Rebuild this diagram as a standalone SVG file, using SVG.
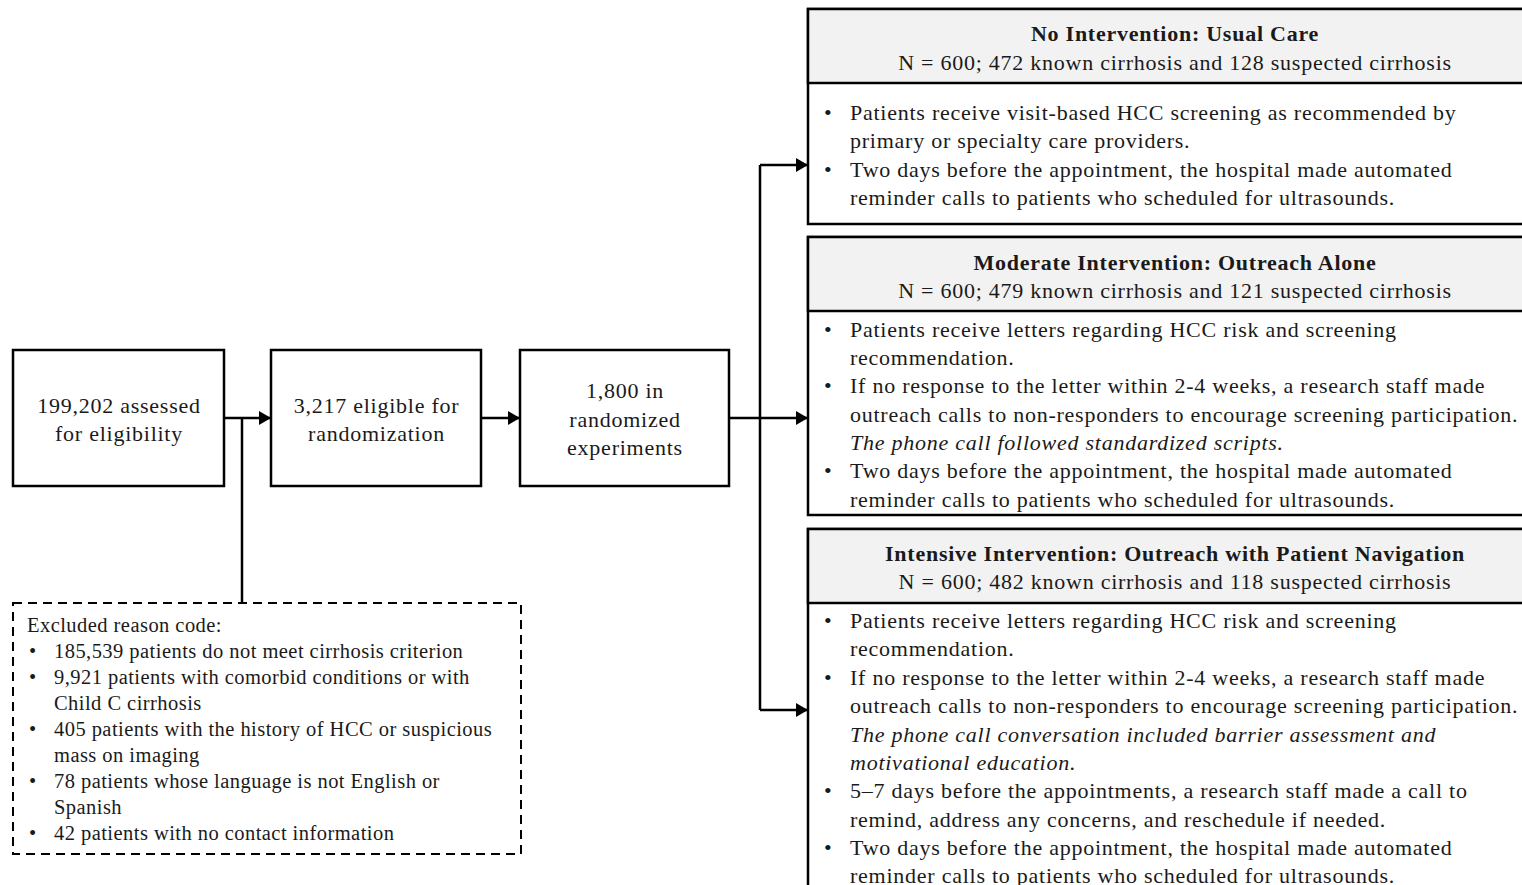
<svg xmlns="http://www.w3.org/2000/svg" width="1522" height="885" viewBox="0 0 1522 885">
<defs>
<marker id="ah" markerWidth="12" markerHeight="14" refX="12" refY="7" orient="auto" markerUnits="userSpaceOnUse"><path d="M0,0 L12,7 L0,14 Z" fill="#000"/></marker>
<style>
.box{fill:#fff;stroke:#000;stroke-width:2.5}
.hdr{fill:#f2f2f2;stroke:#000;stroke-width:2.5}
.dash{fill:#fff;stroke:#000;stroke-width:2;stroke-dasharray:9,6}
.ln{fill:none;stroke:#000;stroke-width:2.5}
text{font-family:"Liberation Serif","Times New Roman",serif;fill:#1a1a1a}
.t{font-size:22px;letter-spacing:0.75px}
.c{font-size:22px;letter-spacing:0.75px;text-anchor:middle}
.b{font-weight:bold}
.s{font-size:20.5px;letter-spacing:0.45px}
.i{font-style:italic}
</style>
</defs>
<rect width="1522" height="885" fill="#fff"/>
<g id="connectors">
<path class="ln" d="M224,418 H271" marker-end="url(#ah)"/>
<path class="ln" d="M242,418 V603"/>
<path class="ln" d="M481,418 H520" marker-end="url(#ah)"/>
<path class="ln" d="M729,418 H808" marker-end="url(#ah)"/>
<path class="ln" d="M760,165 V710"/>
<path class="ln" d="M760,165 H808" marker-end="url(#ah)"/>
<path class="ln" d="M760,710 H808" marker-end="url(#ah)"/>
</g>
<g id="assessed">
<rect class="box" x="13" y="350" width="211" height="136"/>
<text class="c" x="119" y="413">199,202 assessed</text>
<text class="c" x="119" y="441">for eligibility</text>
</g>
<g id="eligible">
<rect class="box" x="271" y="350" width="210" height="136"/>
<text class="c" x="376.5" y="413">3,217 eligible for</text>
<text class="c" x="376.5" y="441">randomization</text>
</g>
<g id="randomized">
<rect class="box" x="520" y="350" width="209" height="136"/>
<text class="c" x="625" y="398">1,800 in</text>
<text class="c" x="625" y="427">randomized</text>
<text class="c" x="625" y="455">experiments</text>
</g>
<g id="excluded">
<rect class="dash" x="13" y="603" width="508" height="251"/>
<text class="s" x="27" y="632">Excluded reason code:</text>
<g class="s">
<text x="29" y="658">•</text><text x="54" y="658">185,539 patients do not meet cirrhosis criterion</text>
<text x="29" y="684">•</text><text x="54" y="684">9,921 patients with comorbid conditions or with</text>
<text x="54" y="710">Child C cirrhosis</text>
<text x="29" y="736">•</text><text x="54" y="736">405 patients with the history of HCC or suspicious</text>
<text x="54" y="762">mass on imaging</text>
<text x="29" y="788">•</text><text x="54" y="788">78 patients whose language is not English or</text>
<text x="54" y="814">Spanish</text>
<text x="29" y="840">•</text><text x="54" y="840">42 patients with no contact information</text>
</g>
</g>
<g id="usual-care">
<rect class="box" x="808" y="9" width="720" height="215"/>
<rect class="hdr" x="808" y="9" width="720" height="74"/>
<text class="c b" x="1175" y="41">No Intervention: Usual Care</text>
<text class="c" x="1175" y="70">N = 600; 472 known cirrhosis and 128 suspected cirrhosis</text>
<g class="t">
<text x="824" y="120">•</text><text x="850" y="120">Patients receive visit-based HCC screening as recommended by</text>
<text x="850" y="148">primary or specialty care providers.</text>
<text x="824" y="177">•</text><text x="850" y="177">Two days before the appointment, the hospital made automated</text>
<text x="850" y="205">reminder calls to patients who scheduled for ultrasounds.</text>
</g>
</g>
<g id="outreach-alone">
<rect class="box" x="808" y="237" width="720" height="278"/>
<rect class="hdr" x="808" y="237" width="720" height="74"/>
<text class="c b" x="1175" y="270">Moderate Intervention: Outreach Alone</text>
<text class="c" x="1175" y="298">N = 600; 479 known cirrhosis and 121 suspected cirrhosis</text>
<g class="t">
<text x="824" y="337">•</text><text x="850" y="337">Patients receive letters regarding HCC risk and screening</text>
<text x="850" y="365">recommendation.</text>
<text x="824" y="393">•</text><text x="850" y="393">If no response to the letter within 2-4 weeks, a research staff made</text>
<text x="850" y="422">outreach calls to non-responders to encourage screening participation.</text>
<text class="i" x="850" y="450">The phone call followed standardized scripts.</text>
<text x="824" y="478">•</text><text x="850" y="478">Two days before the appointment, the hospital made automated</text>
<text x="850" y="507">reminder calls to patients who scheduled for ultrasounds.</text>
</g>
</g>
<g id="patient-navigation">
<rect class="box" x="808" y="529" width="720" height="370"/>
<rect class="hdr" x="808" y="529" width="720" height="74"/>
<text class="c b" x="1175" y="561">Intensive Intervention: Outreach with Patient Navigation</text>
<text class="c" x="1175" y="589">N = 600; 482 known cirrhosis and 118 suspected cirrhosis</text>
<g class="t">
<text x="824" y="628">•</text><text x="850" y="628">Patients receive letters regarding HCC risk and screening</text>
<text x="850" y="656">recommendation.</text>
<text x="824" y="685">•</text><text x="850" y="685">If no response to the letter within 2-4 weeks, a research staff made</text>
<text x="850" y="713">outreach calls to non-responders to encourage screening participation.</text>
<text class="i" x="850" y="742">The phone call conversation included barrier assessment and</text>
<text class="i" x="850" y="770">motivational education.</text>
<text x="824" y="798">•</text><text x="850" y="798">5–7 days before the appointments, a research staff made a call to</text>
<text x="850" y="827">remind, address any concerns, and reschedule if needed.</text>
<text x="824" y="855">•</text><text x="850" y="855">Two days before the appointment, the hospital made automated</text>
<text x="850" y="883">reminder calls to patients who scheduled for ultrasounds.</text>
</g>
</g>
</svg>
